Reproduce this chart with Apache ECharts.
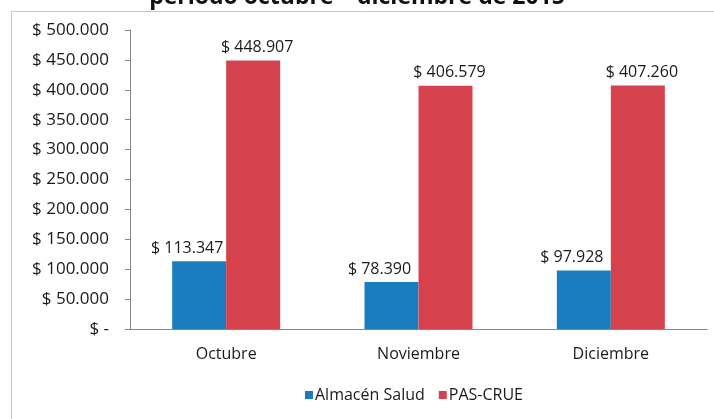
<!DOCTYPE html>
<html>
<head>
<meta charset="utf-8">
<script src="https://cdn.jsdelivr.net/npm/echarts@6/dist/echarts.min.js"></script>
<style>
  html, body { margin: 0; padding: 0; background: #fff; }
  #chart { width: 714px; height: 419px; }
</style>
</head>
<body>
<div id="chart"></div>
<script>
(function () {
    // datos
    var meses = ['Octubre', 'Noviembre', 'Diciembre'];
    var series1Nombre = 'Almacén Salud';
    var series2Nombre = 'PAS-CRUE';
    var almacenSalud = [113347, 78390, 97928];
    var pasCrue = [448907, 406579, 407260];
    var titulo = 'periodo octubre – diciembre de 2015';

    function pesos(v) {
        if (v === 0) return '$ -';
        return '$ ' + String(v).replace(/\B(?=(\d{3})+(?!\d))/g, '.');
    }

    var fuente = 'Open Sans';
    var chart = echarts.init(document.getElementById('chart'));
    chart.setOption({
        backgroundColor: '#fff',
        animation: false,
        graphic: [{
            type: 'rect',
            shape: { x: 11.5, y: 11.5, width: 720, height: 430 },
            style: { fill: 'none', stroke: '#c8c8c8', lineWidth: 1 },
            z: -1
        }],
        title: {
            text: titulo,
            left: 'center',
            top: -19,
            textStyle: { fontFamily: fuente, fontSize: 23, fontWeight: 'bold', color: '#111' }
        },
        legend: {
            data: [series1Nombre, series2Nombre],
            left: 300,
            top: 382,
            itemWidth: 8,
            itemHeight: 8,
            itemGap: 14,
            icon: 'rect',
            textStyle: { fontFamily: fuente, fontSize: 16, color: '#1a1a1a', padding: [0, 0, 0, -3] }
        },
        grid: { left: 130, right: 7, top: 30, bottom: 90 },
        xAxis: {
            type: 'category',
            data: meses,
            axisLine: { lineStyle: { color: '#888' } },
            axisTick: { length: 5, lineStyle: { color: '#888' } },
            axisLabel: { margin: 17, fontFamily: fuente, fontSize: 16, color: '#1a1a1a' }
        },
        yAxis: {
            type: 'value',
            min: 0,
            max: 500000,
            interval: 50000,
            axisLine: { show: true, lineStyle: { color: '#888' } },
            axisTick: { show: true, length: 5, lineStyle: { color: '#888' } },
            splitLine: { show: false },
            axisLabel: {
                margin: 21,
                fontFamily: fuente,
                fontSize: 17,
                color: '#1a1a1a',
                formatter: pesos
            }
        },
        series: [{
            name: series1Nombre,
            type: 'bar',
            data: almacenSalud,
            barWidth: 54,
            barGap: 0,
            itemStyle: { color: '#1a7dc0' },
            label: {
                show: true,
                position: 'top',
                distance: 5,
                offset: [-12, 0],
                fontFamily: fuente,
                fontSize: 16,
                color: '#1a1a1a',
                formatter: function (p) { return pesos(p.value); }
            }
        }, {
            name: series2Nombre,
            type: 'bar',
            data: pasCrue,
            barWidth: 54,
            barGap: 0,
            itemStyle: { color: '#d5424e' },
            label: {
                show: true,
                position: 'top',
                distance: 5,
                offset: [4, 0],
                fontFamily: fuente,
                fontSize: 16,
                color: '#1a1a1a',
                formatter: function (p) { return pesos(p.value); }
            }
        }]
    });
}());
</script>
</body>
</html>
